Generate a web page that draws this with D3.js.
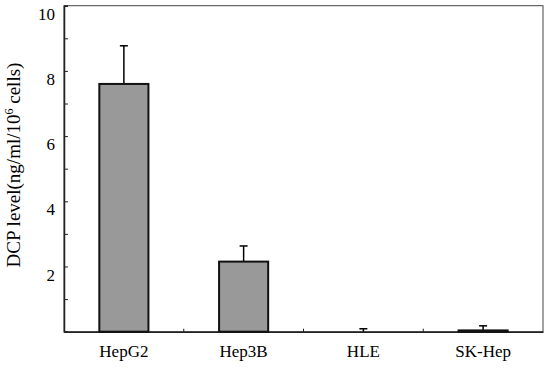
<!DOCTYPE html>
<html lang="en">
<head>
<meta charset="UTF-8">
<title>DCP level</title>
<style>
    body { margin: 0; background: #fff; }
    text { font-family: "Liberation Serif", "Times New Roman", serif; fill: #000; }
</style>
</head>
<body>
<script src="https://cdn.jsdelivr.net/npm/d3@7/dist/d3.min.js"></script>
<script>
    // data
    var cells = ["HepG2", "Hep3B", "HLE", "SK-Hep"];
    var dcp = [7.6, 2.15, 0, 0.04];
    var dcpErr = [1.17, 0.48, 0.09, 0.14];
    var yTicks = [0, 1, 2, 3, 4, 5, 6, 7, 8, 9, 10];

    var w = 550, h = 371;
    var plotL = 64, plotR = 543, plotT = 5.7, plotB = 331.7;
    var serif = "Liberation Serif, Times New Roman, serif";

    var svg = d3.select("body").append("svg").attr("width", w).attr("height", h);

    var x = d3.scaleBand().domain(cells).range([plotL, plotR])
        .paddingInner(0.59).paddingOuter(0.295);
    var y = d3.scaleLinear().domain([0, 10]).range([plotB, plotT]);

    // frame
    svg.append("rect")
        .attr("x", plotL).attr("y", plotT)
        .attr("width", plotR - plotL).attr("height", plotB - plotT)
        .attr("fill", "none").attr("stroke", "#444").attr("stroke-width", 1);

    // y axis, ticks inside, labels on even numbers (sit a bit below the tick)
    var yAxis = svg.append("g")
        .attr("transform", "translate(" + plotL + ",0)")
        .attr("font-family", serif)
        .call(d3.axisLeft(y).tickValues(yTicks).tickSize(-4).tickPadding(9)
            .tickFormat(function (d) { return d > 0 && d % 2 === 0 ? d : ""; }));
    yAxis.select(".domain").attr("stroke", "#222").attr("stroke-width", 1.5);
    yAxis.selectAll(".tick line").attr("stroke", "#222");
    yAxis.selectAll("text").attr("font-size", 17).attr("dy", "0.8em");

    // x axis line + labels
    var xAxis = svg.append("g")
        .attr("transform", "translate(0," + plotB + ")")
        .attr("font-family", serif)
        .call(d3.axisBottom(x).tickSize(0).tickPadding(13));
    xAxis.select(".domain").attr("stroke", "#222").attr("stroke-width", 1.5);
    xAxis.selectAll("text").attr("font-size", 17);

    // small ticks between categories
    svg.selectAll("line.sep").data(cells.slice(0, -1))
        .enter().append("line")
        .attr("class", "sep")
        .attr("x1", function (d) { return x(d) + x.bandwidth() + (x.step() - x.bandwidth()) / 2; })
        .attr("x2", function (d) { return x(d) + x.bandwidth() + (x.step() - x.bandwidth()) / 2; })
        .attr("y1", plotB).attr("y2", plotB - 3)
        .attr("stroke", "#222");

    // error bars (upper only)
    var eb = svg.selectAll("g.err").data(cells).enter().append("g").attr("class", "err");
    eb.append("line")
        .attr("x1", function (d) { return x(d) + x.bandwidth() / 2; })
        .attr("x2", function (d) { return x(d) + x.bandwidth() / 2; })
        .attr("y1", function (d, i) { return y(dcp[i]); })
        .attr("y2", function (d, i) { return y(dcp[i] + dcpErr[i]); })
        .attr("stroke", "#000").attr("stroke-width", 1.5);
    eb.append("line")
        .attr("x1", function (d) { return x(d) + x.bandwidth() / 2 - 4; })
        .attr("x2", function (d) { return x(d) + x.bandwidth() / 2 + 4; })
        .attr("y1", function (d, i) { return y(dcp[i] + dcpErr[i]); })
        .attr("y2", function (d, i) { return y(dcp[i] + dcpErr[i]); })
        .attr("stroke", "#000").attr("stroke-width", 1.5);

    // bars
    svg.selectAll("rect.bar").data(cells).enter().append("rect")
        .attr("class", "bar")
        .attr("x", function (d) { return x(d); })
        .attr("width", x.bandwidth())
        .attr("y", function (d, i) { return y(dcp[i]); })
        .attr("height", function (d, i) { return plotB - y(dcp[i]); })
        .attr("fill", "#999")
        .attr("stroke", "#111")
        .attr("stroke-width", function (d, i) { return dcp[i] > 0 ? 2 : 0; });

    // y title
    var title = svg.append("text")
        .attr("transform", "translate(20," + 165 + ") rotate(-90)")
        .attr("text-anchor", "middle")
        .attr("font-family", serif)
        .attr("font-size", 19);
    title.append("tspan").text("DCP level(ng/ml/10");
    title.append("tspan").attr("baseline-shift", "super").attr("font-size", 12).text("6");
    title.append("tspan").text(" cells)");
</script>
</body>
</html>
